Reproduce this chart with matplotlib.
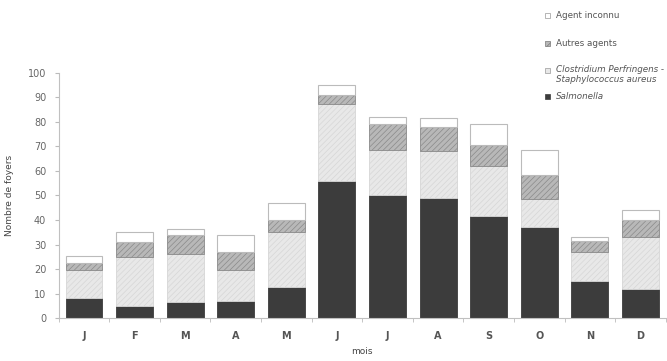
import numpy as np
import matplotlib.pyplot as plt
from matplotlib.patches import Rectangle

plt.rcParams['hatch.linewidth'] = 0.5

mois = ["J", "F", "M", "A", "M", "J", "J", "A", "S", "O", "N", "D"]
salmonella = [8, 5, 6.5, 7, 12.5, 56, 50, 49, 41.5, 37, 15, 12]
clostridium = [11.5, 20, 19.5, 12.5, 22.5, 31.5, 18.5, 19, 20.5, 11.5, 12, 21]
autres = [3, 6, 8, 7.5, 5, 3.5, 10.5, 10, 8.5, 10, 4.5, 7]
inconnu = [3, 4, 2.5, 7, 7, 4, 3, 3.5, 8.5, 10, 1.5, 4]

labels = ["Agent inconnu", "Autres agents",
          "Clostridium Perfringens -\nStaphylococcus aureus", "Salmonella"]

fig = plt.figure(figsize=(6.67, 3.61), dpi=100)
ax = fig.add_axes([0.088, 0.119, 0.91, 0.679])

x = np.arange(len(mois))
w = 0.73
b1 = np.array(salmonella)
b2 = b1 + np.array(clostridium)
b3 = b2 + np.array(autres)

ax.bar(x, salmonella, w, color="#3c3c3c", edgecolor="#3c3c3c", linewidth=0.6)
ax.bar(x, clostridium, w, bottom=b1, color="#e8e8e8", edgecolor="#d6d6d6",
       hatch="//////", linewidth=0.6)
ax.bar(x, autres, w, bottom=b2, color="#b8b8b8", edgecolor="#8a8a8a",
       hatch="//////", linewidth=0.6)
ax.bar(x, inconnu, w, bottom=b3, color="white", edgecolor="#bbbbbb", linewidth=0.8)

ax.set_xlim(-0.5, len(mois) - 0.5)
ax.set_ylim(0, 100)
ax.set_yticks(range(0, 101, 10))
ax.set_xticks(x)
ax.set_xticklabels(mois, fontsize=7, fontweight="bold", color="#555555")
ax.set_xticks(np.arange(-0.5, len(mois), 1), minor=True)
ax.tick_params(axis="x", which="major", length=0, pad=9)
ax.tick_params(axis="x", which="minor", length=3, color="#bbbbbb")
ax.tick_params(axis="y", labelsize=7, labelcolor="#666666", length=3, color="#bbbbbb", pad=6)
for s in ["top", "right"]:
    ax.spines[s].set_visible(False)
for s in ["left", "bottom"]:
    ax.spines[s].set_color("#c0c0c0")
    ax.spines[s].set_linewidth(0.8)

ax.set_ylabel("Nombre de foyers", fontsize=6.5, color="#444444", labelpad=10)
ax.set_xlabel("mois", fontsize=6.5, color="#444444", labelpad=5)

# legend drawn by hand to keep the uneven spacing of the original
styles = [
    dict(fc="white", ec="#999999", hatch=None),
    dict(fc="#b8b8b8", ec="#777777", hatch="/////"),
    dict(fc="#e8e8e8", ec="#999999", hatch=None),
    dict(fc="#3c3c3c", ec="#3c3c3c", hatch=None),
]
ys = [15.7, 43.3, 70, 96.7]
for lab, st, yp in zip(labels, styles, ys):
    yf = 1 - yp / 361
    fig.patches.append(Rectangle((545 / 667, yf - 2.5 / 361), 5 / 667, 5 / 361,
                                 transform=fig.transFigure, facecolor=st["fc"],
                                 edgecolor=st["ec"], hatch=st["hatch"], linewidth=0.5))
    italic = "italic" if lab.startswith(("Clost", "Salm")) else "normal"
    multi = "\n" in lab
    fig.text(556 / 667, yf + (4.5 / 361 if multi else 0), lab, fontsize=6.3,
             color="#555555", style=italic, va="top" if multi else "center",
             linespacing=1.1)

fig.savefig("out.png", dpi=100)
